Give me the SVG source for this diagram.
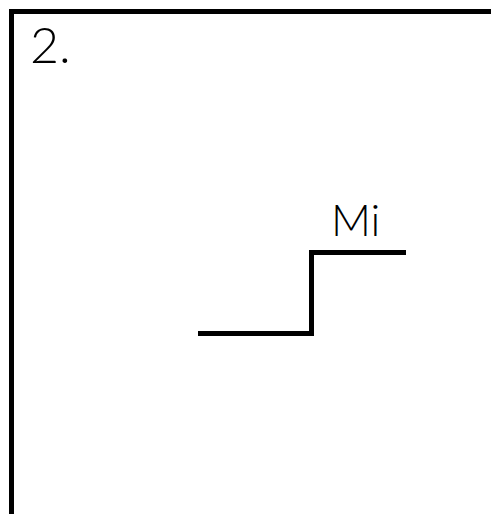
<svg xmlns="http://www.w3.org/2000/svg" width="491" height="514" viewBox="0 0 491 514">
<style>
.ln{fill:none;stroke:#000;stroke-width:5;stroke-linecap:butt}
.t{font-family:Lato,"Liberation Sans",sans-serif;font-weight:300;fill:#000}
</style>
<rect width="491" height="514" fill="#fff"/>
<g id="frame">
<path class="ln" d="M11.5,514 V11.5 H491"/>
<text class="t" x="30" y="63" font-size="50">2.</text>
</g>
<g id="connectors">
<path class="ln" d="M198,333.5 H311.5 V252.5 H406"/>
</g>
<g id="label">
<text class="t" x="331" y="236" font-size="44">Mi</text>
</g>
</svg>
